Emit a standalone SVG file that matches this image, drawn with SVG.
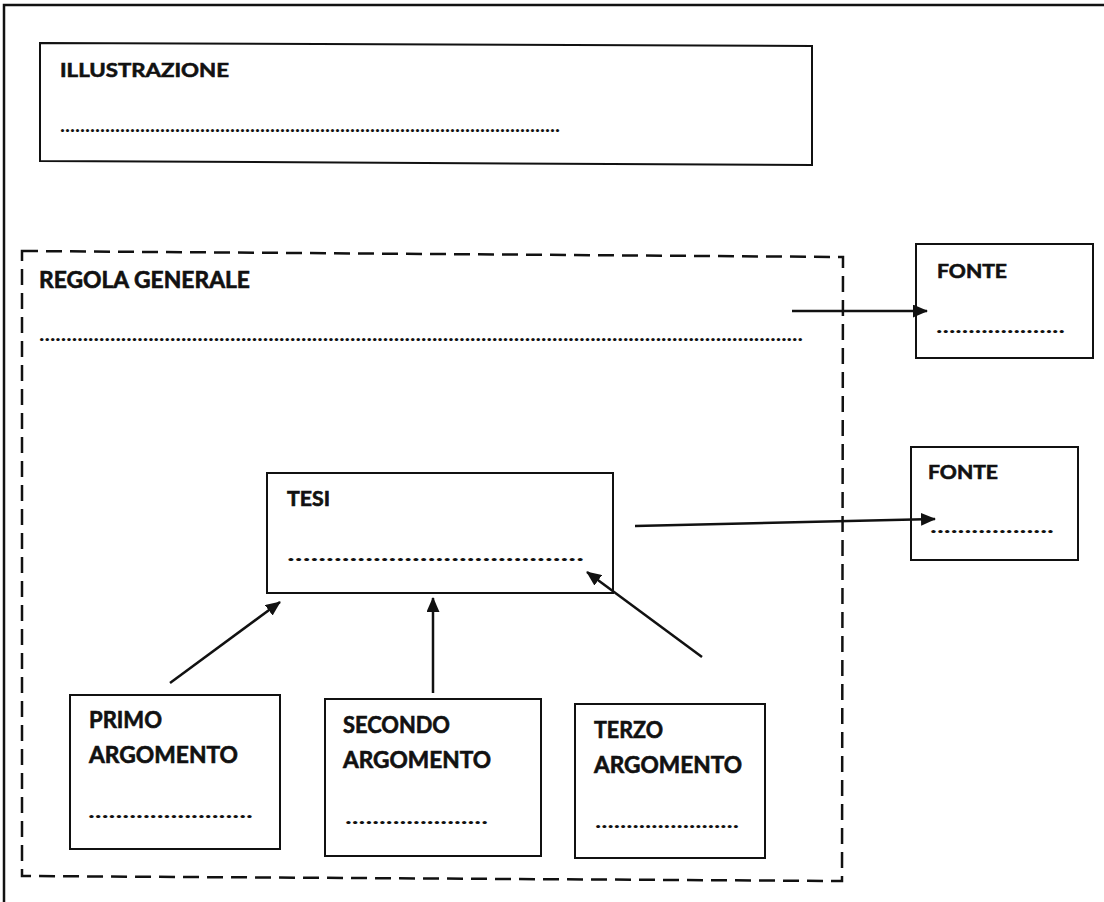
<svg xmlns="http://www.w3.org/2000/svg" width="1104" height="902" viewBox="0 0 1104 902">
  <style>
    .box{fill:#fff;stroke:#111;stroke-width:2}
    .dash{fill:none;stroke:#111;stroke-width:2.5;stroke-dasharray:16,8}
    .lbl{font-family:Lato,"Liberation Sans",sans-serif;font-weight:bold;fill:#111;stroke:#111;stroke-width:0.6}
    .dots{font-family:Lato,"Liberation Sans",sans-serif;font-weight:bold;fill:#111;font-size:18px}
    .con{stroke:#111;stroke-width:2.5;fill:none;marker-end:url(#ah)}
  </style>
  <defs>
    <marker id="ah" markerWidth="15" markerHeight="13" refX="14" refY="6.5" orient="auto" markerUnits="userSpaceOnUse">
      <path d="M0,0 L15,6.5 L0,13 Z" fill="#111"/>
    </marker>
  </defs>
  <rect width="1104" height="902" fill="#fff"/>
  <path d="M4,902 V5 H1104" fill="none" stroke="#111" stroke-width="2.5"/>

  <g id="illustrazione">
    <polygon class="box" points="40,43 812,46 812,165 40,161"/>
    <text class="lbl" x="60" y="77" font-size="19.5" textLength="169" lengthAdjust="spacingAndGlyphs">ILLUSTRAZIONE</text>
    <text class="dots" x="60" y="132" textLength="500" lengthAdjust="spacingAndGlyphs">....................................................................................................</text>
  </g>

  <g id="regola-generale">
    <polygon class="dash" points="22,251 843,257 842,881 22,876"/>
    <text class="lbl" x="39" y="288" font-size="22" textLength="211" lengthAdjust="spacingAndGlyphs">REGOLA GENERALE</text>
    <text class="dots" x="39" y="341" textLength="764" lengthAdjust="spacingAndGlyphs">............................................................................................................................................</text>
  </g>

  <g id="fonte1">
    <rect class="box" x="916" y="244" width="177" height="114"/>
    <text class="lbl" x="937" y="278" font-size="19" textLength="70" lengthAdjust="spacingAndGlyphs">FONTE</text>
    <text class="dots" x="936" y="333" textLength="129" lengthAdjust="spacingAndGlyphs">....................</text>
  </g>

  <g id="fonte2">
    <rect class="box" x="911" y="447" width="167" height="113"/>
    <text class="lbl" x="928" y="479" font-size="19" textLength="70" lengthAdjust="spacingAndGlyphs">FONTE</text>
    <text class="dots" x="930" y="533" textLength="124" lengthAdjust="spacingAndGlyphs">..................</text>
  </g>

  <g id="tesi">
    <rect class="box" x="267" y="473" width="346" height="120"/>
    <text class="lbl" x="287" y="506" font-size="20" textLength="43" lengthAdjust="spacingAndGlyphs">TESI</text>
    <text class="dots" x="287" y="561" textLength="297" lengthAdjust="spacingAndGlyphs">......................................</text>
  </g>

  <g id="primo-argomento">
    <rect class="box" x="70" y="695" width="210" height="154"/>
    <text class="lbl" x="89" y="728" font-size="22" textLength="73" lengthAdjust="spacingAndGlyphs">PRIMO</text>
    <text class="lbl" x="89" y="763" font-size="22" textLength="149" lengthAdjust="spacingAndGlyphs">ARGOMENTO</text>
    <text class="dots" x="88" y="818" textLength="165" lengthAdjust="spacingAndGlyphs">........................</text>
  </g>

  <g id="secondo-argomento">
    <rect class="box" x="325" y="699" width="216" height="157"/>
    <text class="lbl" x="343" y="733" font-size="22" textLength="107" lengthAdjust="spacingAndGlyphs">SECONDO</text>
    <text class="lbl" x="343" y="768" font-size="22" textLength="148" lengthAdjust="spacingAndGlyphs">ARGOMENTO</text>
    <text class="dots" x="345" y="824" textLength="143" lengthAdjust="spacingAndGlyphs">.....................</text>
  </g>

  <g id="terzo-argomento">
    <rect class="box" x="575" y="704" width="190" height="154"/>
    <text class="lbl" x="594" y="738" font-size="22" textLength="69" lengthAdjust="spacingAndGlyphs">TERZO</text>
    <text class="lbl" x="594" y="773" font-size="22" textLength="148" lengthAdjust="spacingAndGlyphs">ARGOMENTO</text>
    <text class="dots" x="595" y="828" textLength="144" lengthAdjust="spacingAndGlyphs">.......................</text>
  </g>

  <g id="connectors">
    <line class="con" x1="792" y1="311" x2="927" y2="311"/>
    <line class="con" x1="635" y1="526" x2="935" y2="519"/>
    <line class="con" x1="170" y1="683" x2="280" y2="602"/>
    <line class="con" x1="433" y1="693" x2="433" y2="598"/>
    <line class="con" x1="702" y1="657" x2="587" y2="572"/>
  </g>
</svg>
